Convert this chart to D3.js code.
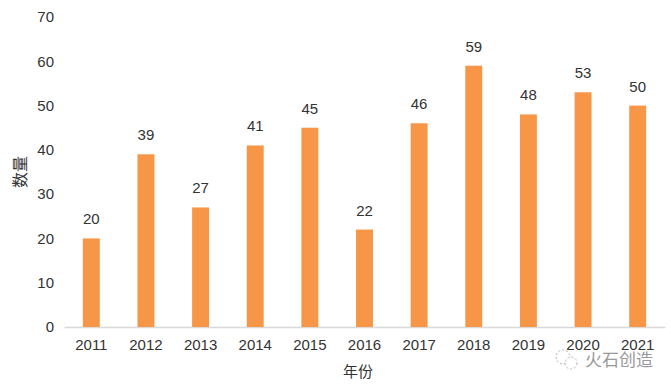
<!DOCTYPE html>
<html lang="zh">
<head>
<meta charset="UTF-8">
<title>年份 数量</title>
<script src="https://d3js.org/d3.v7.min.js"></script>
<style>
    body { margin: 0; background: #fff; font-family: "Liberation Sans", Arial, sans-serif; }
    svg { display: block; }
</style>
</head>
<body>
<svg id="chart" width="671" height="388"></svg>
<script>
    const years = ["2011", "2012", "2013", "2014", "2015", "2016", "2017", "2018", "2019", "2020", "2021"];
    const counts = [20, 39, 27, 41, 45, 22, 46, 59, 48, 53, 50];
    const yTicks = [0, 10, 20, 30, 40, 50, 60, 70];

    const svg = d3.select("#chart");
    const margin = {top: 17, right: 6, bottom: 61, left: 64};
    const width = 671 - margin.left - margin.right;
    const height = 388 - margin.top - margin.bottom;

    const g = svg.append("g")
        .attr("transform", `translate(${margin.left},${margin.top})`);

    const x = d3.scaleBand().domain(years).range([0, width]).paddingInner(0.69).paddingOuter(0.345);
    const y = d3.scaleLinear().domain([0, 70]).range([height, 0]);

    // y axis labels only
    const yAxis = g.append("g").call(d3.axisLeft(y).tickValues(yTicks).tickSize(0).tickPadding(10));
    yAxis.select(".domain").remove();
    yAxis.selectAll("text").attr("font-size", 15).attr("fill", "#333").attr("font-family", "Liberation Sans, Arial, sans-serif");

    // x axis
    const xAxis = g.append("g")
        .attr("transform", `translate(0,${height})`)
        .call(d3.axisBottom(x).tickSize(0).tickPadding(12));
    xAxis.select(".domain").attr("stroke", "#d9d9d9").attr("stroke-width", 1.3);
    xAxis.selectAll("text").attr("font-size", 15).attr("fill", "#333").attr("font-family", "Liberation Sans, Arial, sans-serif");

    // bars
    g.selectAll("rect.bar")
        .data(counts)
        .enter().append("rect")
        .attr("class", "bar")
        .attr("x", (d, i) => x(years[i]))
        .attr("y", d => y(d))
        .attr("width", x.bandwidth())
        .attr("height", d => height - y(d))
        .attr("fill", "#f79646");

    // value labels
    g.selectAll("text.val")
        .data(counts)
        .enter().append("text")
        .attr("class", "val")
        .attr("x", (d, i) => x(years[i]) + x.bandwidth() / 2)
        .attr("y", d => y(d) - 14)
        .attr("text-anchor", "middle")
        .attr("font-size", 15)
        .attr("fill", "#333")
        .text(d => d);

    // axis titles
    svg.append("text")
        .attr("x", 358)
        .attr("y", 377)
        .attr("text-anchor", "middle")
        .attr("font-size", 15)
        .attr("fill", "#333")
        .attr("font-family", "Noto Sans CJK SC, sans-serif")
        .text("年份");

    svg.append("text")
        .attr("transform", "translate(26,172) rotate(-90)")
        .attr("text-anchor", "middle")
        .attr("font-size", 16)
        .attr("fill", "#333")
        .attr("font-family", "Noto Sans CJK SC, sans-serif")
        .text("数量");

    // watermark
    const wm = svg.append("g").attr("opacity", 0.75);
    wm.append("circle").attr("cx", 563).attr("cy", 357).attr("r", 7)
        .attr("fill", "none").attr("stroke", "#999").attr("stroke-dasharray", "2,2");
    wm.append("circle").attr("cx", 571).attr("cy", 363).attr("r", 6)
        .attr("fill", "#fff").attr("stroke", "#999").attr("stroke-dasharray", "2,2");
    wm.append("text")
        .attr("x", 585).attr("y", 366)
        .attr("font-size", 17)
        .attr("fill", "#777")
        .attr("font-family", "Noto Sans CJK SC, sans-serif")
        .text("火石创造");
</script>
</body>
</html>
